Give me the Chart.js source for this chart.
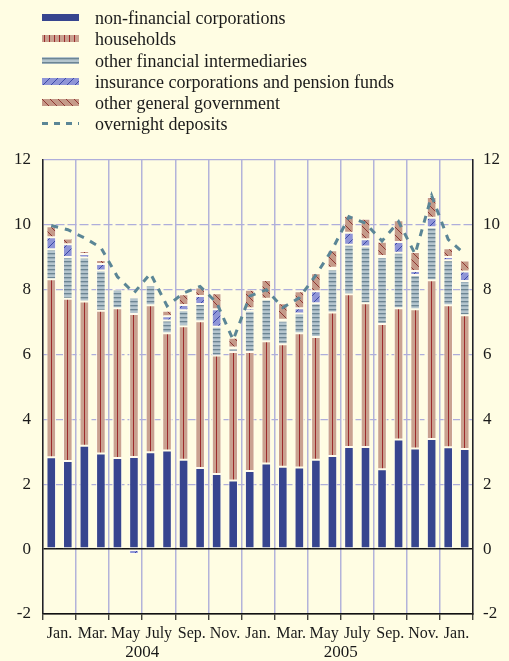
<!DOCTYPE html>
<html><head><meta charset="utf-8">
<script src="https://cdn.jsdelivr.net/npm/chart.js@4.4.1/dist/chart.umd.min.js"></script>
<style>
html,body{margin:0;padding:0;background:#fffde3;}
#wrap{position:relative;width:509px;height:661px;overflow:hidden;background:#fffde3;}
#c{position:absolute;left:0;top:0;}
#legend{position:absolute;left:0;top:0;width:509px;height:140px;}
.li{position:absolute;left:0;height:20px;width:500px;font:18px 'Liberation Serif','Times New Roman',serif;color:#1a1a1a;}
.li canvas{position:absolute;left:42px;top:6px;}
.li span{position:absolute;left:95px;top:0;line-height:20px;white-space:nowrap;}
</style></head><body>
<div id="wrap"><canvas id="c" width="509" height="661"></canvas><div id="legend"></div></div>
<script>
// ---- data ----
const months = ["Jan.","Feb.","Mar.","Apr.","May","June","July","Aug.","Sep.","Oct.","Nov.","Dec.",
                "Jan.","Feb.","Mar.","Apr.","May","June","July","Aug.","Sep.","Oct.","Nov.","Dec.",
                "Jan.","Feb."];
const yearLabels = ["","","","","","","2004","","","","","","","","","","","","2005","","","","","","",""];
const seriesNames = ["non-financial corporations","households","other financial intermediaries",
                     "insurance corporations and pension funds","other general government","overnight deposits"];
const yTicks = [-2,0,2,4,6,8,10,12];
const nonFinancial = [2.83,2.72,3.19,2.95,2.81,2.84,2.99,3.04,2.76,2.50,2.32,2.12,2.41,2.64,2.54,2.52,2.76,2.87,3.15,3.15,2.46,3.38,3.10,3.40,3.14,3.09];
const households   = [5.49,5.00,4.45,4.40,4.62,4.41,4.53,3.62,4.11,4.53,3.65,3.96,3.67,3.77,3.78,4.14,3.78,4.43,4.71,4.43,4.48,4.05,4.30,4.89,4.38,4.12];
const otherFinancial = [0.93,1.29,1.35,1.24,0.58,0.51,0.62,0.39,0.50,0.53,0.89,0.11,1.27,1.29,0.72,0.61,1.04,1.33,1.53,1.75,2.07,1.71,1.05,1.64,1.39,1.06];
const insurancePension = [0.37,0.39,0.11,0.20,0.06,-0.15,0.03,0.13,0.16,0.25,0.54,0.03,0.08,0.02,0.03,0.16,0.37,0.05,0.37,0.23,0.03,0.33,0.13,0.29,0.10,0.29];
const otherGovernment = [0.34,0.18,0.09,0.13,0.04,0.05,0.03,0.17,0.33,0.26,0.49,0.30,0.57,0.58,0.51,0.52,0.56,0.54,0.52,0.63,0.44,0.67,0.58,0.64,0.27,0.34];
const overnightDeposits = [9.98,9.85,9.6,9.3,8.4,7.9,8.5,7.5,7.9,8.1,7.6,6.45,7.8,8.0,7.45,7.75,8.45,9.25,10.25,10.05,9.5,10.1,9.1,10.9,9.55,9.1];

// ---- styles ----
const NFC = '#37458f';
const HH_BASE = '#c9a190', HH_LINE = '#9c2b2b';
const OFI_BASE = '#b4c5ce', OFI_LINE = '#6c8593';
const INS_BASE = '#8f95d7', INS_LINE = '#3b48a6';
const OGG_BASE = '#c59a89', OGG_LINE = '#8e3631';
const DEP = '#5b8696';
const FONT = "'Liberation Serif','Times New Roman',serif";

function tile(w,h,draw){const c=document.createElement('canvas');c.width=w;c.height=h;const g=c.getContext('2d');draw(g,w,h);return c;}
const hhTile = tile(40,4,(g,w,h)=>{g.fillStyle=HH_BASE;g.fillRect(0,0,w,h);g.fillStyle=HH_LINE;g.fillRect(0,0,1,h);});
const hhLegTile = tile(5,4,(g,w,h)=>{g.fillStyle=HH_BASE;g.fillRect(0,0,w,h);g.fillStyle=HH_LINE;g.fillRect(2,0,1,h);});
const ofiTile = tile(4,4,(g,w,h)=>{g.fillStyle=OFI_BASE;g.fillRect(0,0,w,h);g.fillStyle=OFI_LINE;g.fillRect(0,1,w,1);g.globalAlpha=0.35;g.fillRect(0,2,w,1);});
const insTile = tile(8,8,(g,w,h)=>{g.fillStyle=INS_BASE;g.fillRect(0,0,w,h);g.strokeStyle=INS_LINE;g.lineWidth=1;
  [[0,8,8,0],[-4,4,4,-4],[4,12,12,4]].forEach(l=>{g.beginPath();g.moveTo(l[0],l[1]);g.lineTo(l[2],l[3]);g.stroke();});});
const oggTile = tile(8,8,(g,w,h)=>{g.fillStyle=OGG_BASE;g.fillRect(0,0,w,h);g.strokeStyle=OGG_LINE;g.lineWidth=1;
  [[0,0,8,8],[4,-4,12,4],[-4,4,4,12]].forEach(l=>{g.beginPath();g.moveTo(l[0],l[1]);g.lineTo(l[2],l[3]);g.stroke();});});

const cv = document.getElementById('c');
const ctx = cv.getContext('2d');
const ofiPat = ctx.createPattern(ofiTile,'repeat');
const insPat = ctx.createPattern(insTile,'repeat');
const oggPat = ctx.createPattern(oggTile,'repeat');

function hhBg(c){
  const p = c.chart.ctx.createPattern(hhTile,'repeat');
  const xs = c.chart.scales && c.chart.scales.x;
  if (xs && c.dataIndex !== undefined && typeof p.setTransform === 'function') {
    const cx = xs.getPixelForValue(c.dataIndex);
    p.setTransform(new DOMMatrix().translate(Math.floor(cx), 0));
  }
  return p;
}

// ---- legend (HTML, real text) ----
const legend = document.getElementById('legend');
const legendDraw = [
  g=>{g.fillStyle=NFC;g.fillRect(0,0,37,7);},
  g=>{g.fillStyle=g.createPattern(hhLegTile,'repeat');g.fillRect(0,0,37,7);},
  g=>{g.fillStyle=g.createPattern(ofiTile,'repeat');g.fillRect(0,0,37,7);},
  g=>{g.fillStyle=g.createPattern(insTile,'repeat');g.fillRect(0,0,37,7);},
  g=>{g.fillStyle=g.createPattern(oggTile,'repeat');g.fillRect(0,0,37,7);},
  g=>{g.strokeStyle=DEP;g.lineWidth=3;g.setLineDash([6,6]);g.beginPath();g.moveTo(0,3.5);g.lineTo(37,3.5);g.stroke();}
];
seriesNames.forEach((name,i)=>{
  const row=document.createElement('div');row.className='li';
  row.style.top=(18.3+21.1*i-10)+'px';
  const sw=document.createElement('canvas');sw.width=37;sw.height=7;
  legendDraw[i](sw.getContext('2d'));
  const sp=document.createElement('span');sp.textContent=name;
  row.appendChild(sw);row.appendChild(sp);legend.appendChild(row);
});

// ---- chart ----
const barCommon = {type:'bar', borderColor:'#fffbee', borderWidth:1, borderSkipped:false,
  categoryPercentage:1.0, barPercentage:0.58, order:1};
const yFont = {family:FONT, size:17};
const xFont = {family:FONT, size:16};
const halfSlot = (473-43)/26/2;

new Chart(cv, {
  data: {
    labels: months,
    datasets: [
      Object.assign({label:seriesNames[0], data:nonFinancial, backgroundColor:NFC}, barCommon),
      Object.assign({label:seriesNames[1], data:households, backgroundColor:hhBg}, barCommon),
      Object.assign({label:seriesNames[2], data:otherFinancial, backgroundColor:ofiPat}, barCommon),
      Object.assign({label:seriesNames[3], data:insurancePension, backgroundColor:insPat}, barCommon),
      Object.assign({label:seriesNames[4], data:otherGovernment, backgroundColor:oggPat}, barCommon),
      {type:'line', label:seriesNames[5], data:overnightDeposits, stack:'dep', order:0,
       borderColor:DEP, borderWidth:3, borderDash:[7,7], pointRadius:0, fill:false, tension:0}
    ]
  },
  options: {
    responsive:false, animation:false, devicePixelRatio:1,
    layout:{padding:{top:160,left:0,right:0,bottom:0}},
    plugins:{legend:{display:false}, tooltip:{enabled:false}},
    scales:{
      x:{type:'category', stacked:true, position:'bottom', weight:0, offset:true,
        grid:{offset:true, display:true, drawOnChartArea:true,
          color:c=>(c.index===undefined||c.index%2===0)?'#b3b3da':'rgba(0,0,0,0)',
          lineWidth:1.5, drawTicks:true, tickLength:6,
          tickColor:c=>(c.index===undefined||c.index%2===0)?'#222':'rgba(0,0,0,0)', tickWidth:1.2},
        border:{display:true, color:'#111', width:1.5},
        ticks:{autoSkip:false, maxRotation:0, minRotation:0, padding:4, labelOffset:halfSlot,
          font:xFont, color:'#1a1a1a', callback:(v,i)=> i%2===0 ? months[i] : ''},
        afterFit:s=>{s.height=28;}
      },
      xYear:{type:'category', position:'bottom', weight:1, offset:true,
        grid:{display:false, drawTicks:false}, border:{display:false},
        ticks:{autoSkip:false, maxRotation:0, minRotation:0, padding:0, labelOffset:-halfSlot,
          font:{family:FONT, size:17}, color:'#1a1a1a', callback:(v,i)=> yearLabels[i]},
        afterFit:s=>{s.height=19;}
      },
      y:{type:'linear', stacked:true, position:'left', min:-2, max:12,
        afterBuildTicks:s=>{s.ticks=yTicks.map(v=>({value:v}));},
        ticks:{padding:12, font:yFont, color:'#1a1a1a', callback:v=>String(v)},
        grid:{drawTicks:false,
          color:c=>{const v=c.tick?c.tick.value:null; return (v===0||v===-2)?'#111':'#aeaedb';},
          lineWidth:c=>{const v=c.tick?c.tick.value:null; return v===0?1.6:1.2;}},
        border:{display:true, color:'#222', width:1.5,
          dash:c=>{const v=c.tick?c.tick.value:null; return (v===null||v===0||v===12||v===-2)?[]:[9,3];}},
        afterFit:s=>{s.width=43;}
      },
      y2:{type:'linear', position:'right', min:-2, max:12,
        afterBuildTicks:s=>{s.ticks=yTicks.map(v=>({value:v}));},
        ticks:{padding:10, font:yFont, color:'#1a1a1a', callback:v=>String(v)},
        grid:{drawOnChartArea:false, drawTicks:false},
        border:{display:true, color:'#222', width:1.5},
        afterFit:s=>{s.width=36;}
      }
    }
  }
});
</script>
</body></html>
